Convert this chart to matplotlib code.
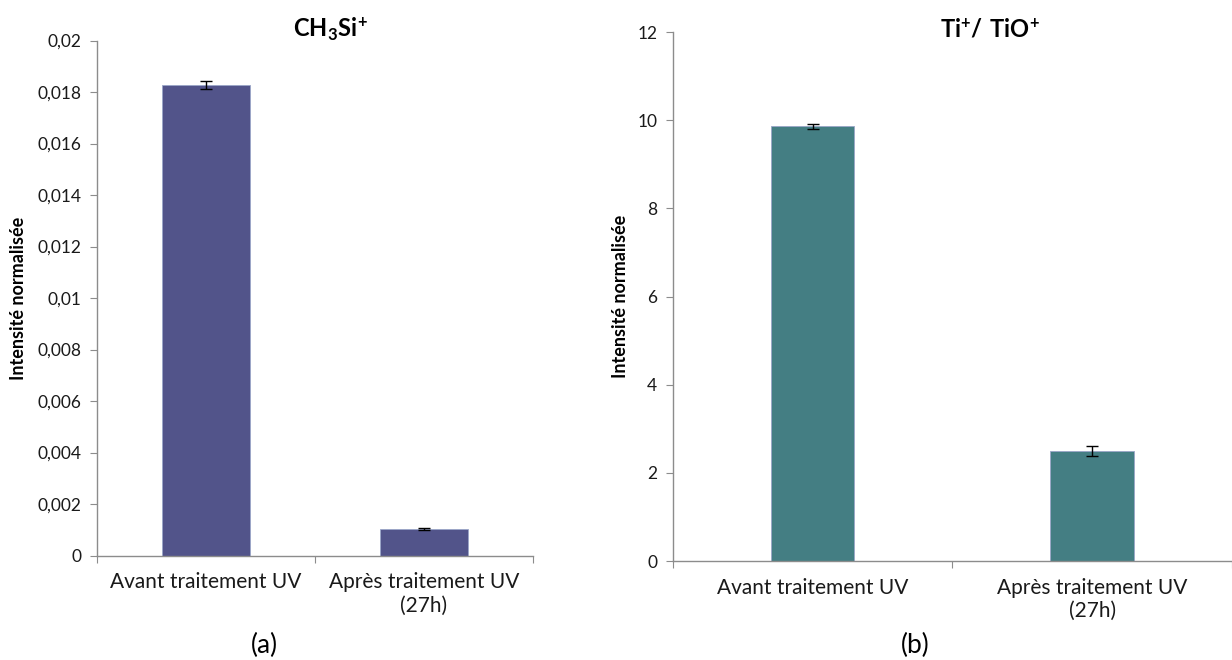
import numpy as np
import matplotlib.pyplot as plt
from matplotlib.ticker import FixedLocator, FuncFormatter

plt.rcParams['font.family'] = ['Lato', 'DejaVu Sans']
plt.rcParams['mathtext.fontset'] = 'custom'
plt.rcParams['mathtext.rm'] = 'Lato'
plt.rcParams['mathtext.bf'] = 'Lato:bold'

categories = ['Avant traitement UV', 'Après traitement UV\n(27h)']

ch3si_values = [0.01826, 0.00104]
ch3si_errors = [0.00015, 0.00003]
ch3si_ticks = [0, 0.002, 0.004, 0.006, 0.008, 0.01, 0.012, 0.014, 0.016, 0.018, 0.02]

ti_values = [9.86, 2.50]
ti_errors = [0.05, 0.11]
ti_ticks = [0, 2, 4, 6, 8, 10, 12]

axis_gray = '#8c8c8c'


def comma_fmt(v, pos):
    if v == 0:
        return '0'
    return f'{v:g}'.replace('.', ',')


def draw_panel(ax, values, errors, ticks, color, bar_width, labelpad):
    x = np.arange(len(categories))
    ax.bar(x, values, width=bar_width, color=color, edgecolor='#9aa6c8', linewidth=0.6,
           yerr=errors, error_kw=dict(ecolor='black', elinewidth=1.0, capsize=4, capthick=1.0),
           zorder=2)
    ax.set_xlim(-0.5, len(categories) - 0.5)
    ax.set_ylim(ticks[0], ticks[-1])
    ax.yaxis.set_major_locator(FixedLocator(ticks))
    ax.yaxis.set_major_formatter(FuncFormatter(comma_fmt))

    # category boundaries get the tick marks, labels go in the middle
    ax.xaxis.set_major_locator(FixedLocator(np.arange(len(categories) + 1) - 0.5))
    ax.xaxis.set_major_formatter(FuncFormatter(lambda v, p: ''))
    ax.xaxis.set_minor_locator(FixedLocator(x))
    ax.set_xticklabels(categories, minor=True, fontsize=15, color='#1a1a1a', linespacing=1.2)
    ax.tick_params(axis='x', which='minor', length=0, pad=12)
    ax.tick_params(axis='x', which='major', length=5, color=axis_gray, direction='out')
    ax.tick_params(axis='y', length=5, color=axis_gray, labelsize=12.5, labelcolor='#1a1a1a', pad=6)

    for side in ['top', 'right']:
        ax.spines[side].set_visible(False)
    for side in ['left', 'bottom']:
        ax.spines[side].set_color(axis_gray)
        ax.spines[side].set_linewidth(1.0)

    ax.set_ylabel('Intensité normalisée', fontsize=13, fontweight='bold', labelpad=labelpad)


fig = plt.figure(figsize=(12.32, 6.6), dpi=100)
ax1 = fig.add_axes([0.0787, 0.1583, 0.3539, 0.7803])
ax2 = fig.add_axes([0.546, 0.15, 0.454, 0.8015])

draw_panel(ax1, ch3si_values, ch3si_errors, ch3si_ticks, '#52548a', 0.4, 8)
draw_panel(ax2, ti_values, ti_errors, ti_ticks, '#447e83', 0.3, 6)

# titles and panel letters
fig.text(0.268, 0.955, r'$\mathbf{CH_3Si^{\!+}}$', fontsize=17, ha='center', va='center')
fig.text(0.8036, 0.955, r'$\mathbf{Ti^{\!+}\!/\ TiO^{\!+}}$', fontsize=17, ha='center', va='center')
fig.text(0.215, 0.022, '(a)', fontsize=19, ha='center', va='center')
fig.text(0.743, 0.022, '(b)', fontsize=19, ha='center', va='center')

fig.savefig('out.png', dpi=100)
